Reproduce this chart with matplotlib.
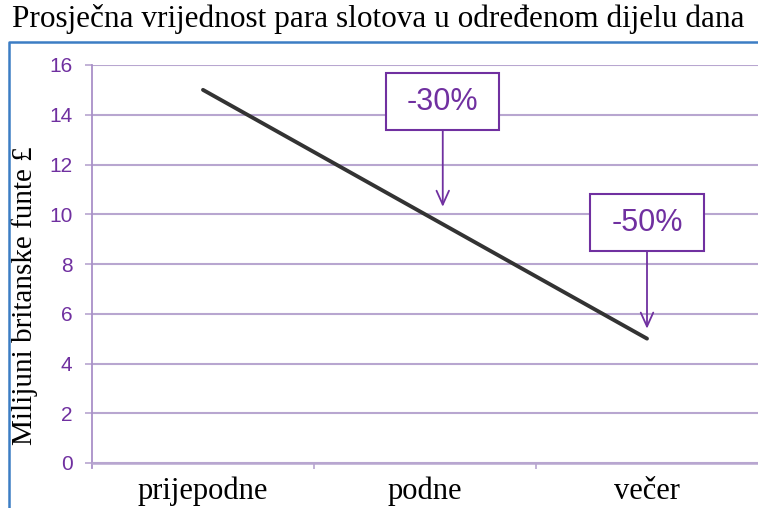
import matplotlib.pyplot as plt
from matplotlib.lines import Line2D
from matplotlib.patches import Rectangle

# data
periods = ['prijepodne', 'podne', 'večer']
values = [15, 10, 5]
yticks = [0, 2, 4, 6, 8, 10, 12, 14, 16]
note_labels = ['-30%', '-50%']
note_x = [1.08, 2.0]        # category position of box / arrow
note_y = [14.52, 9.66]      # box centre
note_tip = [10.3, 5.4]      # arrow tip

purple = '#7030A0'
gridc = '#B8A6D0'
W, H = 758, 508
box_w, box_h = 0.51, 2.29

fig = plt.figure(figsize=(W/100, H/100), dpi=100)
ax = fig.add_axes([92/W, (H-463)/H, 666/W, 398/H])

ax.plot(range(len(values)), values, color='#333333', lw=2.8, solid_capstyle='round', zorder=3)

ax.set_xlim(-0.5, 2.5)
ax.set_ylim(0, 16)
ax.set_yticks(yticks)
ax.set_yticklabels([str(v) for v in yticks], color=purple, family='Liberation Sans', fontsize=15)
ax.set_xticks(range(len(periods)))
ax.set_xticklabels(periods, family='Liberation Serif', fontsize=22)
ax.set_xticks([0.5, 1.5], minor=True)
ax.tick_params(axis='x', which='major', length=0, pad=10)
ax.tick_params(axis='x', which='minor', length=4, width=1.2, color=gridc)
ax.tick_params(axis='y', length=5, width=1.2, color=gridc, pad=9)
ax.yaxis.grid(True, color=gridc, lw=1.5)
ax.set_axisbelow(True)
for s in ['top', 'right']:
    ax.spines[s].set_visible(False)
ax.spines['left'].set_color('#A990C8')
ax.spines['left'].set_linewidth(1.3)
ax.spines['left'].set_bounds(-0.2, 16)
ax.spines['bottom'].set_color(gridc)
ax.spines['bottom'].set_linewidth(1.8)

ax.set_ylabel('Milijuni britanske funte £', family='Liberation Serif', fontsize=21)
ax.yaxis.set_label_coords(-0.081, 0.42)

for lab, x, yc, yt in zip(note_labels, note_x, note_y, note_tip):
    ax.add_patch(Rectangle((x - box_w/2, yc - box_h/2), box_w, box_h, fc='white', ec=purple, lw=1.5, zorder=4))
    ax.annotate('', xy=(x, yt), xytext=(x, yc - box_h/2),
                arrowprops=dict(arrowstyle='->,head_width=0.45,head_length=1.0', color=purple, lw=1.3,
                                shrinkA=0, shrinkB=0))
    ax.text(x, yc, lab, ha='center', va='center', color=purple, family='Liberation Sans', fontsize=22, zorder=5)

# title and blue frame
fig.text(12/W, 1 - 4/H, 'Prosječna vrijednost para slotova u određenom dijelu dana',
         family='Liberation Serif', fontsize=22.5, va='top', ha='left')
fig.add_artist(Line2D([9/W, 9/W, 1], [0, 1 - 42/H, 1 - 42/H], transform=fig.transFigure,
                      color='#3C7DC4', lw=1.8))

fig.savefig('out.png', dpi=100)
